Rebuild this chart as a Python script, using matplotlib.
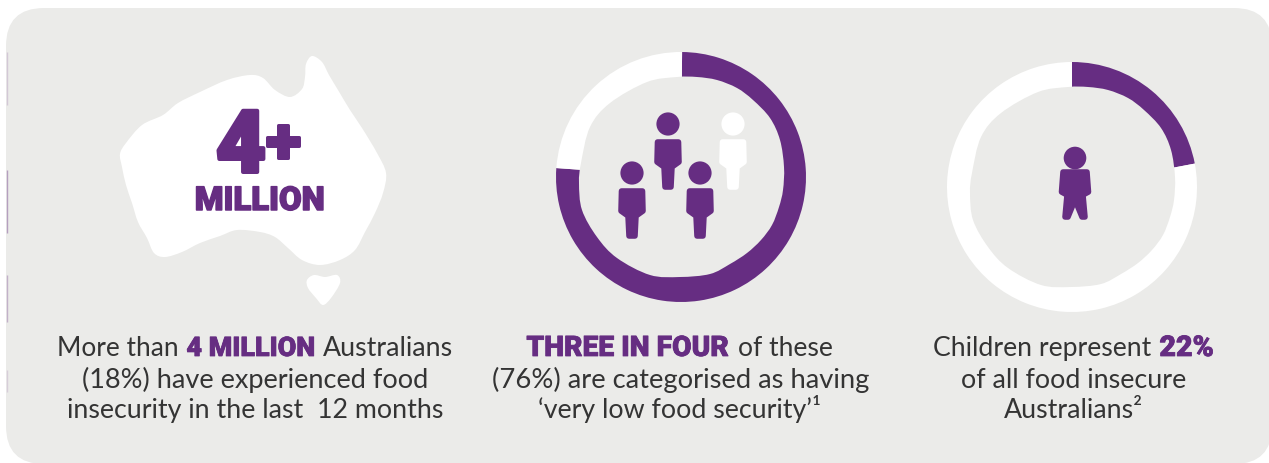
import numpy as np
import matplotlib
matplotlib.use('Agg')
import matplotlib.pyplot as plt
import matplotlib.patheffects as pe
from matplotlib.path import Path
from matplotlib.patches import PathPatch, Circle, FancyBboxPatch

W, H = 1269, 463
purple = '#662d82'
panel = '#ebebe9'
dark = '#343434'

ring_adults = [76, 24]
ring_children = [22, 78]

# outlines, in px of the figure
mainland = [(312, 56), (322, 62), (329, 75), (338, 90), (350, 110), (362, 128), (377, 153), (386, 173),
            (383, 193), (375, 213), (365, 232), (355, 250), (340, 260), (320, 265), (302, 260), (288, 248),
            (275, 237), (260, 232), (237, 230), (220, 236), (200, 243), (182, 252), (165, 257), (154, 253),
            (147, 238), (138, 222), (132, 203), (126, 185), (122, 167), (120, 154), (126, 143), (142, 125),
            (163, 115), (178, 103), (200, 92), (227, 80), (250, 75), (263, 78), (275, 90), (290, 97),
            (302, 89), (305, 77), (306, 64)]
tasmania = [(307, 280), (314, 275), (325, 277), (337, 275), (340, 283), (331, 298), (323, 305), (316, 298), (308, 288)]
# inner edge of the rings, relative to the ring centre
hole = [(-4, -100), (16, -100), (36, -97), (56, -89), (72, -77), (89, -59), (99, -37), (103, -10),
        (102, 13), (98, 30), (91, 48), (80, 63), (66, 76), (49, 87), (29, 97), (-1, 100), (-31, 98),
        (-64, 81), (-84, 60), (-99, 33), (-102, 6), (-100, -14), (-91, -50), (-71, -74), (-34, -95)]

fig = plt.figure(figsize=(W / 100, H / 100), dpi=100, facecolor='white')
ax = fig.add_axes([0, 0, 1, 1])


def smooth_path(pts):
    # closed catmull-rom through the points, y flipped to axes coords
    p = np.array(pts, dtype=float)
    p[:, 1] = H - p[:, 1]
    n = len(p)
    verts = [p[0]]
    codes = [Path.MOVETO]
    for i in range(n):
        p0, p1, p2, p3 = p[i - 1], p[i], p[(i + 1) % n], p[(i + 2) % n]
        verts += [p1 + (p2 - p0) / 6, p2 - (p3 - p1) / 6, p2]
        codes += [Path.CURVE4] * 3
    return Path(verts, codes)


def blob(pts, color, z=2):
    ax.add_patch(PathPatch(smooth_path(pts), fc=color, ec='none', zorder=z))


def ring(values, cx, cy, colors, start):
    ax.pie(values, center=(cx, H - cy), radius=125, colors=colors, startangle=start, counterclock=False,
           wedgeprops={'linewidth': 0, 'zorder': 2})
    blob([(cx + x, cy + y) for x, y in hole], panel, z=3)


def person(cx, head_y, color):
    ax.add_patch(Circle((cx, H - head_y), 11.6, fc=color, ec='none', zorder=4))
    body = [(-10.5, 18), (10.5, 18), (11, 38), (4, 43), (3, 63), (-3, 63), (-4, 43), (-11, 38)]
    pts = [(cx + x, H - head_y - y) for x, y in body]
    ax.fill(*zip(*pts), fc=color, ec=color, lw=4, joinstyle='round', zorder=4)


def child(cx, head_y, color):
    ax.add_patch(Circle((cx, H - head_y), 11.3, fc=color, ec='none', zorder=4))
    body = [(-12, 14), (12, 14), (13.5, 34), (8, 37), (10, 59), (7, 59), (0, 42), (-7, 59), (-10, 59), (-8, 37), (-13.5, 34)]
    pts = [(cx + x, H - head_y - y) for x, y in body]
    ax.fill(*zip(*pts), fc=color, ec=color, lw=4, joinstyle='round', zorder=4)


def fit(s, x0, x1, base, heavy=False, stroke=0):
    # places the string on its baseline and scales it to span x0..x1
    if heavy:
        t = ax.text(x0, H - base, s, family='Roboto', weight=900, fontsize=20, color=purple, va='baseline', zorder=5)
    else:
        t = ax.text(x0, H - base, s, family='Lato', fontsize=17, color=dark, va='baseline', zorder=5)
    r = fig.canvas.get_renderer()
    w = t.get_window_extent(r).width
    t.set_fontsize(t.get_fontsize() * (x1 - x0 - stroke) / w)
    if stroke:
        t.set_x(x0 + stroke / 2)
        t.set_path_effects([pe.withStroke(linewidth=stroke / 1.39, foreground=purple, joinstyle='round')])
    return t


# panel runs off the right edge
ax.add_patch(FancyBboxPatch((6, H - 464), 1266, 456, boxstyle='round,pad=0,rounding_size=38',
                            fc=panel, ec='none', zorder=0))

# thin traces along the left edge
for y0, y1, a in [(52, 105, 0.18), (170, 233, 0.4), (275, 322, 0.3), (370, 392, 0.15)]:
    ax.plot([6.5, 6.5], [H - y0, H - y1], color=purple, lw=1, alpha=a, solid_capstyle='butt', zorder=1)

# map
blob(mainland, 'white')
blob(tasmania, 'white')
fit('+', 264, 302, 163, heavy=True, stroke=3)
fit('4', 214, 268, 172, heavy=True, stroke=4)
fit('MILLION', 194, 326, 210, heavy=True, stroke=1.5)

# rings
ring(ring_adults, 681, 177, [purple, 'white'], 89.5)
ring(ring_children, 1072, 187, [purple, 'white'], 90)

person(668, 124, purple)
person(733, 124, 'white')
person(632, 173, purple)
person(700, 173, purple)
child(1075, 158, purple)

# captions
fit('More than', 57, 178, 356)
fit('4 MILLION', 186, 316, 356, heavy=True, stroke=0.8)
fit('Australians', 323, 453, 356)
fit('(18%) have experienced food', 82, 428, 388)
fit('insecurity in the last  12 months', 67, 443, 418)

fit('THREE IN FOUR', 526, 729, 356, heavy=True, stroke=0.8)
fit('of these', 738, 833, 356)
fit('(76%) are categorised as having', 492, 870, 388)
fit('‘very low food security’¹', 538, 821, 418)

fit('Children represent', 933, 1151, 356)
fit('22%', 1159, 1214, 356, heavy=True, stroke=0.8)
fit('of all food insecure', 961, 1186, 388)
fit('Australians²', 1004, 1143, 418)

ax.set_aspect('auto')
ax.set_xlim(0, W)
ax.set_ylim(0, H)
ax.axis('off')
fig.savefig('out.png', dpi=100, facecolor='white')
plt.close()
